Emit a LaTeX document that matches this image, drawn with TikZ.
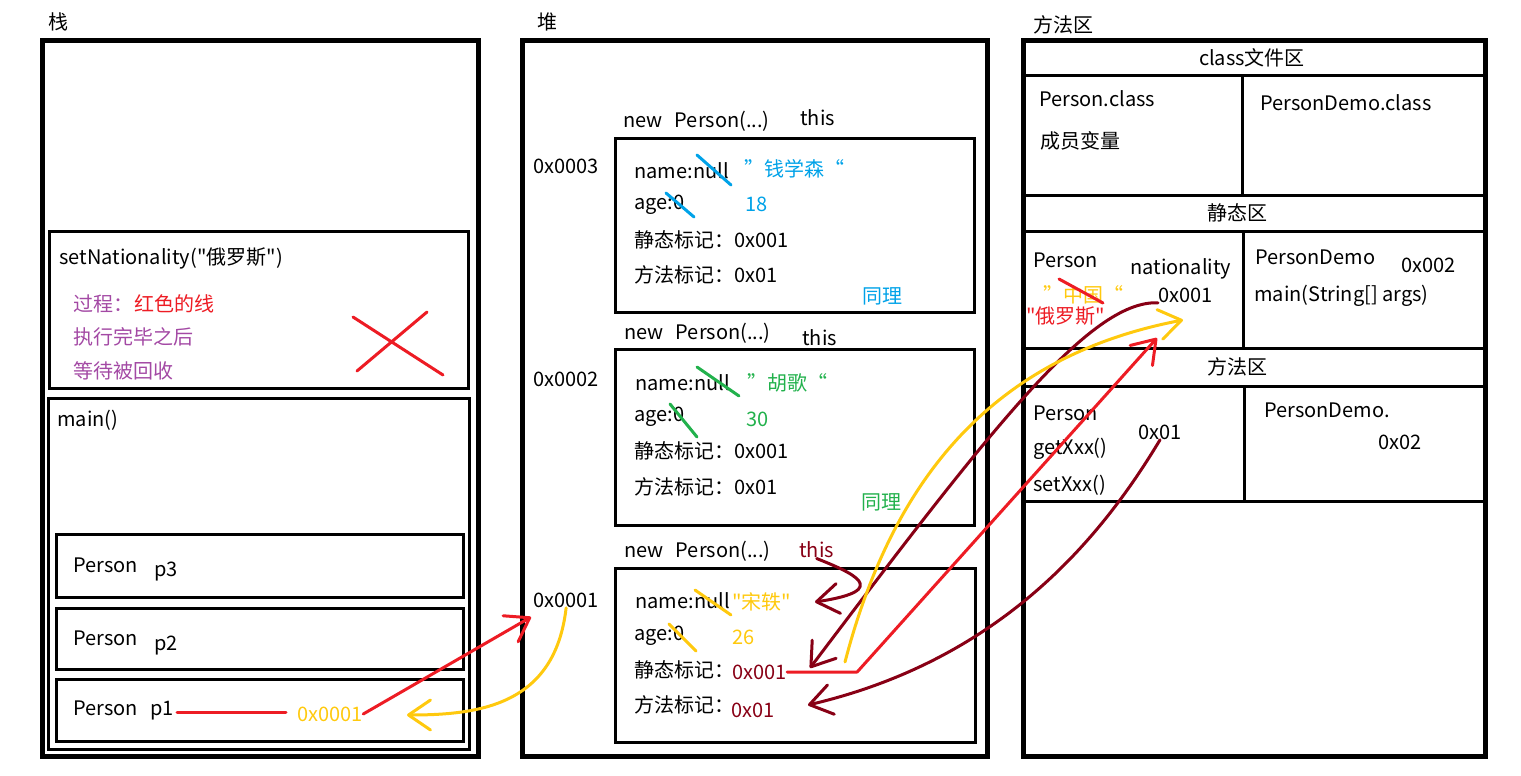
\documentclass[tikz,border=0pt]{standalone}
\usepackage{fontspec}
\setmainfont{Noto Sans CJK SC}[Ligatures=TeXOff]
\usetikzlibrary{arrows.meta, positioning}
\definecolor{pred}{HTML}{ED1C24}
\definecolor{pgold}{HTML}{FFC90E}
\definecolor{pwine}{HTML}{880015}
\definecolor{pblue}{HTML}{00A2E8}
\definecolor{pgreen}{HTML}{22B14C}
\definecolor{ppurple}{HTML}{A349A4}
\tikzset{
  lbl/.style={inner sep=0pt, anchor=west},
  mid/.style={inner sep=0pt},
  area/.style={line width=2.5pt},
  frame/.style={line width=1.5pt},
  pen/.style={line width=1.5pt, line cap=round, line join=round},
  penarrow/.style={pen, -{Straight Barb[length=11pt, width=15pt, round]}},
}

\begin{document}
\begin{tikzpicture}[x=0.5pt, y=-0.5pt, font=\fontsize{10pt}{12pt}\selectfont]
  \useasboundingbox (0,0) rectangle (1521,776);
  % stack
  \node[lbl] (stackT) at (48,22) {栈};
  \draw[area] (42,40) rectangle (478,756);
  \draw[frame] (49.5,231.5) rectangle (468.5,388);
  \node[lbl] (setNat) at (59,258) {setNationality("俄罗斯")};
  \node[lbl, ppurple] (proc) at (73,304) {过程：};
  \node[lbl, pred, right=0pt of proc] (procRed) {红色的线};
  \node[lbl, ppurple] (done) at (73,337) {执行完毕之后};
  \node[lbl, ppurple] (wait) at (73,371) {等待被回收};
  \draw[pen, pred] (353,317) -- (443,375) (357,371) -- (427,312);
  \draw[frame] (48.5,398.5) rectangle (469.5,749.5);
  \node[lbl] (mainT) at (57,420) {main()};
  \draw[frame] (56.5,534.5) rectangle (463,597);
  \draw[frame] (56.5,608) rectangle (463,669.5);
  \draw[frame] (56.5,679.5) rectangle (463,741.5);
  \node[lbl, anchor=base west] (typeThree) at (73,572) {Person};
  \node[lbl, anchor=base west] (varThree) at (154,576) {p3};
  \node[lbl, anchor=base west] (typeTwo) at (73,645) {Person};
  \node[lbl, anchor=base west] (varTwo) at (154,650) {p2};
  \node[lbl, anchor=base west] (typeOne) at (73,715) {Person};
  \node[lbl, anchor=base west] (varOne) at (150,715) {p1};
  \node[lbl, pgold] (p1addr) at (297,714) {0x0001};
  \draw[pen, pred] (177,712) -- (286,712);

  % heap
  \node[lbl] (heapT) at (537,22) {堆};
  \draw[area] (522.5,40) rectangle (987.5,756.5);
  % object 0x0003
  \node[lbl] (newC) at (623,121) {new\hspace{6pt}Person(...)};
  \node[lbl] (thisC) at (800,118) {this};
  \node[lbl] (addrC) at (533,166) {0x0003};
  \draw[frame] (615,138) rectangle (974.5,312.5);
  \node[lbl] (nameC) at (634,171) {name:null};
  \node[lbl, pblue] (nameCv) at (744,169) {”钱学森“};
  \node[lbl] (ageC) at (634,205) {age:0};
  \node[lbl, pblue] (ageCv) at (745,204) {18};
  \node[lbl] (statC) at (634,240) {静态标记：0x001};
  \node[lbl] (methC) at (634,275) {方法标记：0x01};
  \node[lbl, pblue] (sameC) at (862,296) {同理};
  \draw[pen, pblue] (697,155) -- (731,185) (666,193) -- (694,217);
  % object 0x0002
  \node[lbl] (newB) at (624,333) {new\hspace{6pt}Person(...)};
  \node[lbl] (thisB) at (802,338) {this};
  \node[lbl] (addrB) at (533,379) {0x0002};
  \draw[frame] (615.5,349.5) rectangle (974.5,525);
  \node[lbl] (nameB) at (635,383) {name:null};
  \node[lbl, pgreen] (nameBv) at (747,383) {”胡歌“};
  \node[lbl] (ageB) at (634,417) {age:0};
  \node[lbl, pgreen] (ageBv) at (746,419) {30};
  \node[lbl] (statB) at (634,451) {静态标记：0x001};
  \node[lbl] (methB) at (634,487) {方法标记：0x01};
  \node[lbl, pgreen] (sameB) at (861,502) {同理};
  \draw[pen, pgreen] (697,367) -- (739,396) (670,404) -- (697,437);
  % object 0x0001
  \node[lbl] (newA) at (624,551) {new\hspace{6pt}Person(...)};
  \node[lbl, pwine] (thisA) at (799,550) {this};
  \node[lbl] (addrA) at (533,600) {0x0001};
  \draw[frame] (615.5,568) rectangle (975.5,742);
  \node[lbl] (nameA) at (635,601) {name:null};
  \node[lbl, pgold] (nameAv) at (732,602) {"宋轶"};
  \node[lbl] (ageA) at (634,636) {age:0};
  \node[lbl, pgold] (ageAv) at (732,637) {26};
  \node[lbl] (statA) at (634,670) {静态标记：};
  \node[lbl, pwine] (statAv) at (732,672) {0x001};
  \node[lbl] (methA) at (634,705) {方法标记：};
  \node[lbl, pwine] (methAv) at (731,710) {0x01};
  \draw[pen, pgold] (695,590) -- (731,615) (669,624) -- (696,651);

  % method area
  \node[lbl] (methT) at (1033,25) {方法区};
  \draw[area] (1023,40.5) rectangle (1485.5,756.5);
  \draw[frame] (1023,75.5) -- (1485.5,75.5) (1023,195.5) -- (1485.5,195.5)
    (1023,231) -- (1485.5,231) (1023,348.5) -- (1485.5,348.5)
    (1023,386.5) -- (1485.5,386.5) (1023,501.5) -- (1485.5,501.5);
  \draw[frame] (1242,75.5) -- (1242,195.5) (1243.5,231) -- (1243.5,348.5)
    (1244.5,386.5) -- (1244.5,501.5);
  \node[mid] (classT) at (1252,58) {class文件区};
  \node[lbl] (personCls) at (1039,99) {Person.class};
  \node[lbl] (members) at (1040,141) {成员变量};
  \node[lbl] (demoCls) at (1260,103) {PersonDemo.class};
  \node[mid] (staticT) at (1237,213) {静态区};
  \node[lbl] (sPerson) at (1033,260) {Person};
  \node[lbl] (sNation) at (1130,269) {nationality};
  \node[lbl, pgold] (sOld) at (1043,295) {”中国“};
  \node[lbl, pred] (sNew) at (1026,316) {"俄罗斯"};
  \draw[pen, pred] (1059,279) -- (1103,303);
  \node[lbl] (sAddr) at (1158,295) {0x001};
  \node[lbl] (sDemo) at (1255,257) {PersonDemo};
  \node[lbl] (sDemoAddr) at (1401,265) {0x002};
  \node[lbl] (sMain) at (1254,296) {main(String[] args)};
  \node[mid] (methodT) at (1237,367) {方法区};
  \node[lbl] (mPerson) at (1033,413) {Person};
  \node[lbl] (mGet) at (1033,449) {getXxx()};
  \node[lbl] (mSet) at (1033,485) {setXxx()};
  \node[lbl] (mAddr) at (1138,432) {0x01};
  \node[lbl] (mDemo) at (1264,410) {PersonDemo.};
  \node[lbl] (mDemoAddr) at (1378,442) {0x02};

  % arrow ends
  \coordinate (p1back) at (407,715);
  \coordinate (heapTip) at (531,617);
  \coordinate (thisTip) at (815,602);
  \coordinate (statTip) at (810,668);
  \coordinate (methTip) at (808,705);
  \coordinate (redTip) at (1157,338);
  \coordinate (goldTip) at (1183,320);

  % references
  \draw[penarrow, pred] (p1addr.east) -- (heapTip);
  \draw[penarrow, pgold] (addrA.south) .. controls (555,705) and (480,715) .. (p1back);
  \draw[penarrow, pwine] (thisA.south) .. controls (850,572) and (895,590) .. (thisTip);
  \draw[penarrow, pwine] (sAddr.south west) .. controls (1090,300) and (990,430) .. (statTip);
  \draw[penarrow, pgold] (845,662) .. controls (895,470) and (1000,355) .. (goldTip);
  \draw[penarrow, pred] (statAv.east) -- ++(70,0) -- (redTip);
  \draw[penarrow, pwine] (mAddr.south) .. controls (1100,540) and (1000,660) .. (methTip);
\end{tikzpicture}
\end{document}
